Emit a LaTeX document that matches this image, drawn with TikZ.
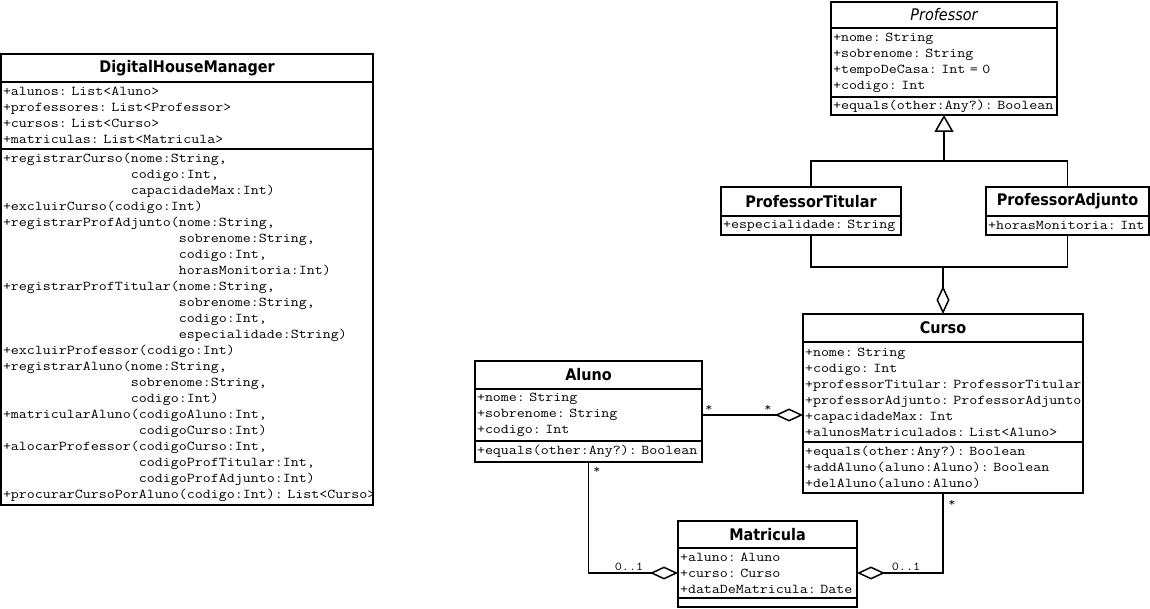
\documentclass[tikz,border=0pt]{standalone}
\usepackage{fontspec}
\setmainfont{DejaVu Sans}
\setsansfont[FakeStretch=0.9]{DejaVu Sans}
\setmonofont[FakeStretch=1.15, WordSpace=1.15]{Latin Modern Mono}
\usepackage{tikz}
\usetikzlibrary{positioning}
\usetikzlibrary{arrows.meta}

\begin{document}
\begin{tikzpicture}
  [
    x=1pt, y=-1pt,
    ctitle/.style 2 args={draw, line width=1.5pt, outer sep=0pt, inner sep=0pt,
      anchor=north west, minimum width=#1, minimum height=#2,
      font=\fontsize{16}{18}\selectfont\sffamily\bfseries},
    cpart/.style 2 args={draw, line width=1.5pt, outer sep=0pt,
      inner xsep=2pt, inner ysep=0pt, minimum width=#1, minimum height=#2,
      text width=#1-4pt, align=left, font=\fontsize{13.5}{16}\selectfont\ttfamily},
    mult/.style={inner sep=0pt, font=\fontsize{12}{14}\selectfont\ttfamily},
    link/.style={draw, line width=1.5pt},
    agg/.style={link, -{Diamond[open, length=28pt, width=13pt]}},
    gen/.style={link, -{Triangle[open, length=17pt, width=19pt]}}
  ]
  \useasboundingbox (0,0) rectangle (1150,609);

  % DigitalHouseManager
  \node (dhmT) at (1,54) [ctitle={372pt}{28pt}] {DigitalHouseManager};
  \node (dhmA) [cpart={372pt}{67pt}, below=0pt of dhmT]
    {+alunos:~List<Aluno>\\
     +professores:~List<Professor>\\
     +cursos:~List<Curso>\\
     +matriculas:~List<Matricula>};
  \node (dhmM) [cpart={372pt}{356pt}, below=0pt of dhmA]
    {+registrarCurso(nome:String,\\
     \phantom{+registrarCurso(}codigo:Int,\\
     \phantom{+registrarCurso(}capacidadeMax:Int)\\
     +excluirCurso(codigo:Int)\\
     +registrarProfAdjunto(nome:String,\\
     \phantom{+registrarProfAdjunto(}sobrenome:String,\\
     \phantom{+registrarProfAdjunto(}codigo:Int,\\
     \phantom{+registrarProfAdjunto(}horasMonitoria:Int)\\
     +registrarProfTitular(nome:String,\\
     \phantom{+registrarProfTitular(}sobrenome:String,\\
     \phantom{+registrarProfTitular(}codigo:Int,\\
     \phantom{+registrarProfTitular(}especialidade:String)\\
     +excluirProfessor(codigo:Int)\\
     +registrarAluno(nome:String,\\
     \phantom{+registrarAluno(}sobrenome:String,\\
     \phantom{+registrarAluno(}codigo:Int)\\
     +matricularAluno(codigoAluno:Int,\\
     \phantom{+matricularAluno(}codigoCurso:Int)\\
     +alocarProfessor(codigoCurso:Int,\\
     \phantom{+alocarProfessor(}codigoProfTitular:Int,\\
     \phantom{+alocarProfessor(}codigoProfAdjunto:Int)\\
     +procurarCursoPorAluno(codigo:Int):~List<Curso>};

  % Professor
  \node (profT) at (831,2) [ctitle={226pt}{26pt},
    font=\fontsize{16}{18}\selectfont\sffamily\itshape] {Professor};
  \node (profA) [cpart={226pt}{69pt}, below=0pt of profT]
    {+nome:~String\\
     +sobrenome:~String\\
     +tempoDeCasa:~Int~=~0\\
     +codigo:~Int};
  \node (profM) [cpart={226pt}{18pt}, below=0pt of profA]
    {+equals(other:Any?):~Boolean};

  \node (ptT) at (721,187) [ctitle={180pt}{29pt}] {ProfessorTitular};
  \node (ptA) [cpart={180pt}{19pt}, below=0pt of ptT] {+especialidade:~String};

  \node (paT) at (986,187) [ctitle={163pt}{29pt}] {ProfessorAdjunto};
  \node (paA) [cpart={163pt}{19pt}, below=0pt of paT] {+horasMonitoria:~Int};

  % Curso
  \node (cursoT) at (803,314) [ctitle={280pt}{28pt}] {Curso};
  \node (cursoA) [cpart={280pt}{100pt}, below=0pt of cursoT]
    {+nome:~String\\
     +codigo:~Int\\
     +professorTitular:~ProfessorTitular\\
     +professorAdjunto:~ProfessorAdjunto\\
     +capacidadeMax:~Int\\
     +alunosMatriculados:~List<Aluno>};
  \node (cursoM) [cpart={280pt}{51pt}, below=0pt of cursoA]
    {+equals(other:Any?):~Boolean\\
     +addAluno(aluno:Aluno):~Boolean\\
     +delAluno(aluno:Aluno)};

  % Aluno
  \node (alunoT) at (475,361) [ctitle={227pt}{28pt}] {Aluno};
  \node (alunoA) [cpart={227pt}{52pt}, below=0pt of alunoT]
    {+nome:~String\\
     +sobrenome:~String\\
     +codigo:~Int};
  \node (alunoM) [cpart={227pt}{21pt}, below=0pt of alunoA]
    {+equals(other:Any?):~Boolean};

  % Matricula
  \node (matT) at (678,521) [ctitle={179pt}{27pt}] {Matricula};
  \node (matA) [cpart={179pt}{50pt}, below=0pt of matT]
    {+aluno:~Aluno\\
     +curso:~Curso\\
     +dataDeMatricula:~Date};
  \node (matM) [cpart={179pt}{9pt}, below=0pt of matA] {};

  \coordinate (genJ) at (944,161);
  \coordinate (aggJ) at (943,267);
  \draw [link] (ptT.north) |- (genJ) -| (paT.north);
  \draw [gen] (genJ) -- (profM.south);
  \draw [link] (ptA.south) |- (aggJ) -| (paA.south);
  \draw [agg] (aggJ) -- (cursoT.north);

  \draw [agg] (alunoA.east) -- (alunoA.east -| cursoA.west);
  \draw [agg] (alunoM.south) |- (matA.west);
  \draw [agg] (cursoM.south) |- (matA.east);

  \node (mAC1) at (709,408) [mult] {*};
  \node (mAC2) at (768,408) [mult] {*};
  \node (mAM1) at (597,470) [mult] {*};
  \node (mAM2) at (629,567) [mult] {0..1};
  \node (mCM1) at (952,503) [mult] {*};
  \node (mCM2) at (906,567) [mult] {0..1};
\end{tikzpicture}
\end{document}
